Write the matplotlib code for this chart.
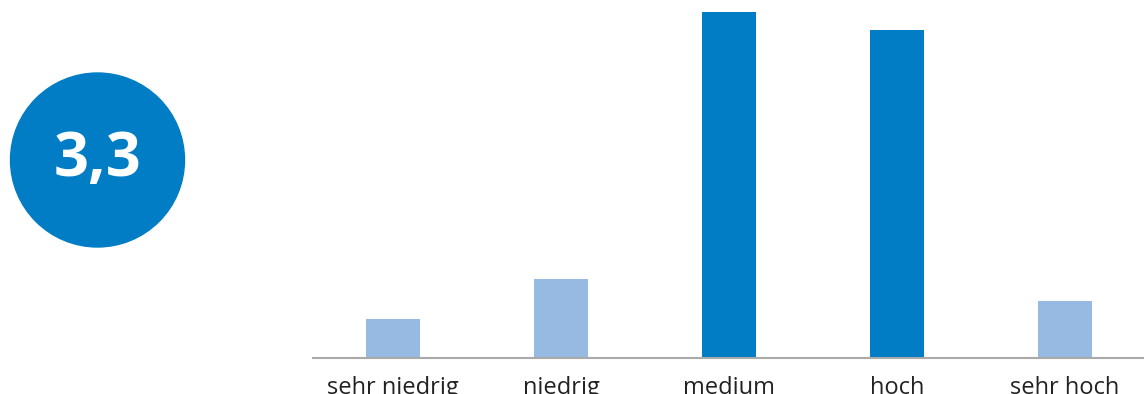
import numpy as np
import matplotlib
matplotlib.use("Agg")
import matplotlib.pyplot as plt
from matplotlib.patches import Circle

# Anteile je Stufe in Prozent
stufen = ["sehr niedrig", "niedrig", "medium", "hoch", "sehr hoch"]
anteile = [4.6, 9.3, 40.7, 38.6, 6.7]
punkte = [1, 2, 3, 4, 5]
hervorgehoben = [False, False, True, True, False]

dunkelblau = "#007DC5"
hellblau = "#97BAE3"

plt.rcParams['font.family'] = ['Open Sans', 'DejaVu Sans']

fig = plt.figure(figsize=(11.44, 3.94), dpi=100)

# Balkendiagramm
ax = fig.add_axes([313 / 1144, 36 / 394, 831 / 1144, 358 / 394])
farben = [dunkelblau if h else hellblau for h in hervorgehoben]
x = np.arange(len(stufen))
ax.bar(x, anteile, width=0.32, color=farben)
ax.set_xlim(-0.476, 4.47)
ax.set_ylim(0, 40.7 * 358 / 346)
ax.set_xticks(x)
ax.set_xticklabels(stufen, fontsize=17, color="#222222")
ax.tick_params(axis="x", length=0, pad=13)
ax.set_yticks([])
for s in ["top", "right", "left"]:
    ax.spines[s].set_visible(False)
ax.spines["bottom"].set_color("#AAAAAA")
ax.spines["bottom"].set_linewidth(1.5)

# Mittelwert im Kreis
mittel = np.average(punkte, weights=anteile)
ax_kreis = fig.add_axes([0, 0, 1, 1])
ax_kreis.set_xlim(0, 1144)
ax_kreis.set_ylim(394, 0)
ax_kreis.set_axis_off()
ax_kreis.add_patch(Circle((97.5, 160), 87, color=dunkelblau))
ax_kreis.text(97.5, 160, f"{mittel:.1f}".replace(".", ","), color="white",
              fontsize=44, fontweight="bold", ha="center", va="center")
ax_kreis.set_aspect("equal")

fig.savefig("out.png", dpi=100)
